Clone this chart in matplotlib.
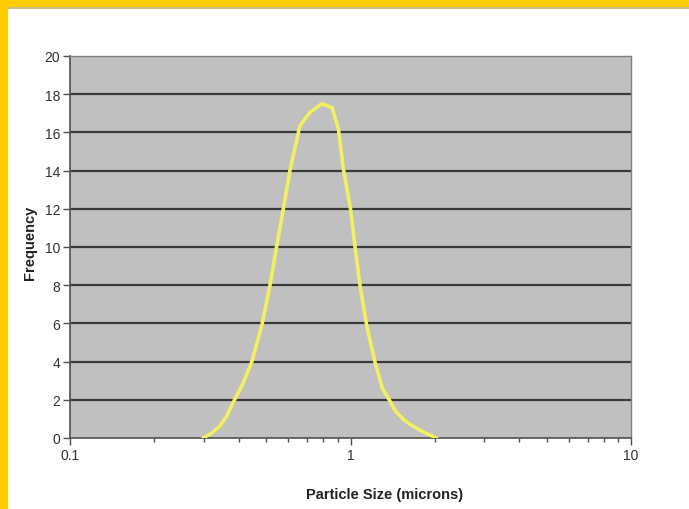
import matplotlib
matplotlib.use("Agg")
import matplotlib.pyplot as plt
from matplotlib.patches import Rectangle
from matplotlib.ticker import LogLocator, FixedLocator, NullFormatter

# Data
particle_size = [0.298, 0.32, 0.343, 0.362, 0.382, 0.415, 0.445, 0.483, 0.516, 0.545, 0.576,
                 0.608, 0.66, 0.717, 0.789, 0.86, 0.905, 0.943, 1.0, 1.038,
                 1.081, 1.142, 1.223, 1.30, 1.38, 1.45, 1.55, 1.67, 1.80, 1.92, 2.03]
frequency = [0.0, 0.25, 0.64, 1.15, 1.87, 2.9, 4.0, 5.9, 7.97, 10.0, 12.0,
             14.0, 16.35, 17.05, 17.5, 17.3, 16.2, 14.1, 12.0, 10.0,
             8.0, 5.9, 3.96, 2.6, 1.95, 1.4, 0.95, 0.62, 0.35, 0.15, 0.0]
y_ticks = [0, 2, 4, 6, 8, 10, 12, 14, 16, 18, 20]
x_ticks = [0.1, 1, 10]
x_tick_labels = ["0.1", "1", "10"]

plt.rcParams['font.family'] = ['Liberation Sans', 'DejaVu Sans']

W, H = 689, 510
fig = plt.figure(figsize=(W / 100, H / 100), dpi=100)
fig.patch.set_facecolor("white")

# yellow frame (top and left)
fig.patches.append(Rectangle((0, 1 - 8 / H), 1, 8 / H, transform=fig.transFigure,
                             facecolor="#FFCC00", edgecolor="none", zorder=0))
fig.patches.append(Rectangle((0, 0), 8 / W, 1, transform=fig.transFigure,
                             facecolor="#FFCC00", edgecolor="none", zorder=0))
fig.patches.append(Rectangle((8 / W, 1 - 10 / H), 1, 2 / H, transform=fig.transFigure,
                             facecolor="#b09040", edgecolor="none", zorder=0, alpha=0.6))

ax = fig.add_axes([70 / W, 1 - 439 / H, (631 - 70) / W, (439 - 57) / H])
ax.set_facecolor("#c0c0c0")
ax.set_xscale("log")
ax.set_xlim(0.1, 10)
ax.set_ylim(0, 20)

ax.yaxis.set_major_locator(FixedLocator(y_ticks))
ax.set_yticklabels([str(v) for v in y_ticks])
ax.xaxis.set_major_locator(FixedLocator(x_ticks))
ax.set_xticklabels(x_tick_labels)
ax.xaxis.set_minor_locator(LogLocator(base=10, subs=range(2, 10)))
ax.xaxis.set_minor_formatter(NullFormatter())

for y in y_ticks[1:-1]:
    ax.axhline(y, color="#3a3a3a", lw=1.6, zorder=1)

ax.plot(particle_size, frequency, color="#f2f060", lw=2.6, zorder=3,
        solid_joinstyle="round", solid_capstyle="round")

for s in ["left", "bottom"]:
    ax.spines[s].set_color("#505050")
    ax.spines[s].set_linewidth(1.2)
for s in ["top", "right"]:
    ax.spines[s].set_color("#808080")
    ax.spines[s].set_linewidth(1.0)

ax.tick_params(axis="both", which="major", direction="out", length=5, width=1,
               color="#505050", labelsize=10, labelcolor="#333333", pad=2)
ax.tick_params(axis="x", which="minor", direction="out", length=3, width=1, color="#505050")
ax.tick_params(axis="x", which="major", pad=2)

fig.text(30 / W, 1 - 243 / H, "Frequency", rotation=90, ha="center", va="center",
         fontsize=10.5, fontweight="bold", color="#222222")
fig.text(385 / W, 1 - 495 / H, "Particle Size (microns)", ha="center", va="center",
         fontsize=10.5, fontweight="bold", color="#222222")

fig.savefig("out.png", dpi=100)
